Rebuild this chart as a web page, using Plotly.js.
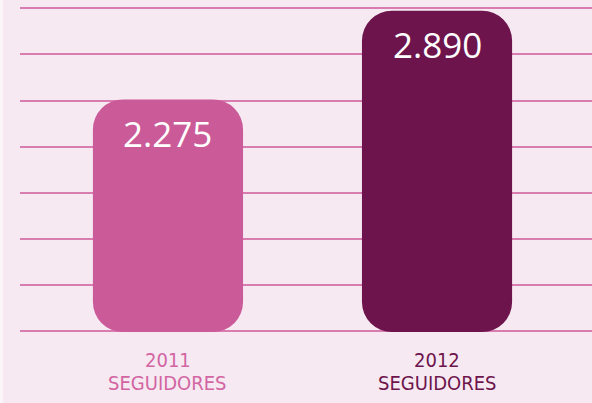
<!DOCTYPE html>
<html>
<head>
<meta charset="utf-8">
<script src="https://cdn.plot.ly/plotly-3.0.1.min.js"></script>
<style>
  html, body { margin: 0; padding: 0; background: #fbf5f9; }
  #chart { position: absolute; left: 3px; top: 0; width: 589px; height: 403px; }
</style>
</head>
<body>
<div id="chart"></div>
<script>
// Data
const categories = ['2011', '2012'];
const followers = [2275, 2890];
const subLabels = ['SEGUIDORES', 'SEGUIDORES'];
const barColors = ['#cb5b98', '#6d144c'];
const labelColors = ['#d265a2', '#6d144c'];

// Axis window (visible value range)
const yMin = 660, yMax = 2965;
const floorVal = yMin;

const bars = {
  type: 'bar',
  x: categories,
  base: categories.map(() => floorVal),
  y: followers.map(v => v - floorVal),
  width: 0.558,
  marker: { color: barColors, cornerradius: 30, line: { width: 0 } },
  hoverinfo: 'skip',
  showlegend: false
};

const fmt = v => v.toLocaleString('de-DE');

const annotations = [];
categories.forEach((c, i) => {
  annotations.push({
    x: i, y: followers[i], xref: 'x', yref: 'y',
    text: fmt(followers[i]), showarrow: false,
    yanchor: 'middle', yshift: -34,
    font: { family: 'Open Sans, sans-serif', size: 35, color: '#ffffff' }
  });
  annotations.push({
    x: i, y: 0, xref: 'x', yref: 'paper',
    text: c, showarrow: false, yanchor: 'top', yshift: -14,
    font: { family: 'Liberation Sans Narrow, DejaVu Sans Condensed, sans-serif', size: 20, color: labelColors[i] }
  });
  annotations.push({
    x: i, y: 0, xref: 'x', yref: 'paper',
    text: subLabels[i], showarrow: false, yanchor: 'top', yshift: -37,
    font: { family: 'Liberation Sans Narrow, DejaVu Sans Condensed, sans-serif', size: 20, color: labelColors[i] }
  });
});

const layout = {
  width: 589, height: 403,
  margin: { l: 17, r: 0, t: 0, b: 71, pad: 0 },
  paper_bgcolor: '#f6e9f2',
  plot_bgcolor: '#f6e9f2',
  separators: ',.',
  xaxis: {
    type: 'category',
    range: [-0.550, 1.576],
    showticklabels: false, showgrid: false, zeroline: false, showline: false, ticks: ''
  },
  yaxis: {
    range: [yMin, yMax],
    tick0: 667, dtick: 320,
    showticklabels: false, showgrid: true,
    gridcolor: '#d97db1', gridwidth: 2,
    zeroline: false, showline: false, ticks: ''
  },
  annotations: annotations
};

Plotly.newPlot('chart', [bars], layout, { displayModeBar: false, staticPlot: true });
</script>
</body>
</html>
